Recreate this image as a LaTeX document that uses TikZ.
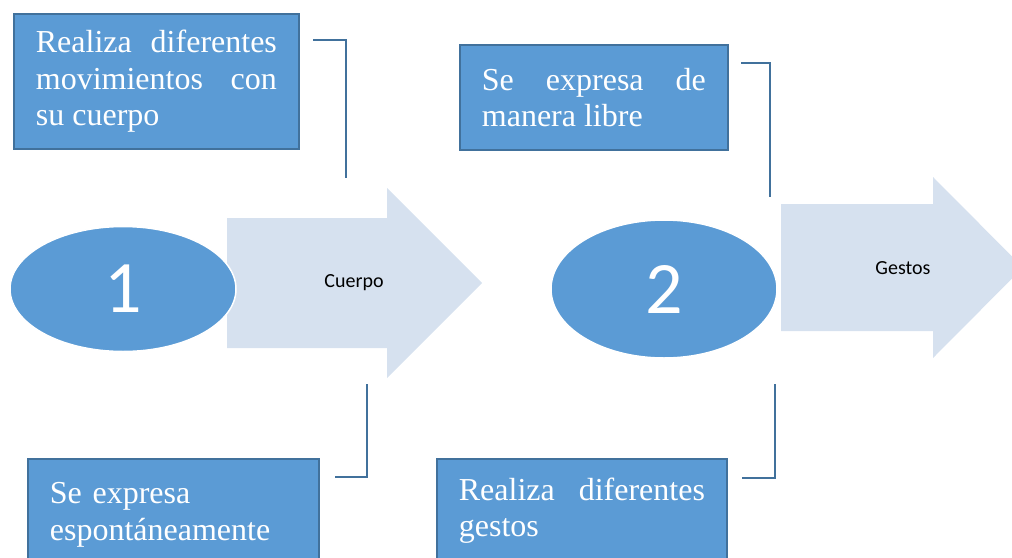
\documentclass[tikz,border=0pt]{standalone}
\usepackage{fontspec}
\setmainfont{Liberation Serif}
\newfontfamily\calibrifont{Carlito}
\usetikzlibrary{shapes.geometric}
\definecolor{boxblue}{HTML}{5B9BD5}
\definecolor{boxedge}{HTML}{41719C}
\definecolor{arrowfill}{HTML}{D6E1EF}
\hyphenpenalty=10000
\exhyphenpenalty=10000
\tolerance=9999
\tikzset{
  textbox/.style={draw=boxedge, line width=1.8pt, fill=boxblue, text=white,
    anchor=north west, inner xsep=22pt, inner ysep=0pt,
    font=\fontsize{32}{36.5}\selectfont},
  stepoval/.style={ellipse, fill=boxblue, draw=white, line width=1.5pt,
    inner sep=0pt, text=white, font=\calibrifont\fontsize{74}{74}\selectfont},
  bigarrow/.style={fill=arrowfill, draw=none},
  arrowlabel/.style={font=\calibrifont\fontsize{20}{24}\selectfont},
  bracket/.style={draw=boxedge, line width=1.8pt}
}

\begin{document}
\begin{tikzpicture}[x=1pt, y=-1pt]
    \useasboundingbox (0,0) rectangle (1012,557);
    \clip (0,0) rectangle (1012,557);
    % big arrows
    \fill[bigarrow] (227,218) -- (387,218) -- (387,188) -- (482,283)
        -- (387,378) -- (387,348) -- (227,348) -- cycle;
    \fill[bigarrow] (781,204) -- (933,204) -- (933,177) -- (1023,267.5)
        -- (933,358) -- (933,331) -- (781,331) -- cycle;
    \node[arrowlabel] (lbl_cuerpo) at (354,283) {Cuerpo};
    \node[arrowlabel] (lbl_gestos) at (903,268) {Gestos};
    % numbered steps
    \node[stepoval, minimum width=226pt, minimum height=125pt] (step_one) at (123,289) {1};
    \node[stepoval, minimum width=226pt, minimum height=138pt] (step_two) at (664,289) {2};
    % text boxes
    \node[textbox, minimum width=285pt, minimum height=135pt, text width=241pt,
        align=justify] (box_movimientos) at (13,13)
        {Realiza diferentes movimientos con su cuerpo};
    \node[textbox, minimum width=268pt, minimum height=105pt, text width=224pt,
        align=justify] (box_libre) at (459,44)
        {Se expresa de manera libre};
    \node[textbox, minimum width=291pt, minimum height=112pt, text width=247pt,
        align=left] (box_espontaneo) at (27,458)
        {Se expresa espont\'aneamente};
    \node[textbox, minimum width=290pt, minimum height=104pt, text width=246pt,
        align=justify] (box_gestos) at (436,458)
        {Realiza diferentes gestos};
    % bracket lines
    \coordinate (brk_mov_in) at (313,40);
    \coordinate (brk_mov_out) at (346,178);
    \coordinate (brk_libre_in) at (741,63);
    \coordinate (brk_libre_out) at (770,197);
    \coordinate (brk_esp_in) at (335,477);
    \coordinate (brk_esp_out) at (367,384);
    \coordinate (brk_gestos_in) at (742,478);
    \coordinate (brk_gestos_out) at (775,384);
    \draw[bracket] (brk_mov_in) -| (brk_mov_out);
    \draw[bracket] (brk_libre_in) -| (brk_libre_out);
    \draw[bracket] (brk_esp_in) -| (brk_esp_out);
    \draw[bracket] (brk_gestos_in) -| (brk_gestos_out);
\end{tikzpicture}
\end{document}
